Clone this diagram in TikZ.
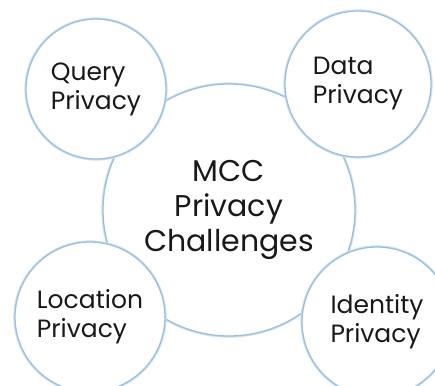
\documentclass[tikz,border=0pt]{standalone}
\usepackage{fontspec}
\setmainfont{Poppins}
\usepackage{tikz}
\definecolor{ringblue}{RGB}{150,192,228}
\definecolor{ringglow}{RGB}{205,225,243}

\begin{document}
\begin{tikzpicture}[x=1pt,y=-1pt,
    ring/.style={circle,draw=ringblue,line width=1.3pt,fill=white,inner sep=0pt,
      align=left,text=black!90,preaction={draw=ringglow,line width=3.2pt}},
    bigring/.style={ring,minimum size=252pt,font=\fontsize{30}{35}\selectfont},
    smallring/.style={ring,font=\fontsize{25}{29}\selectfont}]
  \clip (0,0) rectangle (435,385);
  \fill[white] (0,0) rectangle (435,385);
  % centre
  \node[bigring,align=center] (mcc) at (229,210) {MCC\\Privacy\\Challenges};
  % four corners
  \node[smallring,minimum size=140pt] (query) at (96,89) {Query\\Privacy};
  \node[smallring,minimum size=146pt] (data) at (358,84) {Data\\Privacy};
  \node[smallring,minimum size=150pt] (location) at (90,317) {Location\\Privacy};
  \node[smallring,minimum size=150pt] (identity) at (377,322) {Identity\\Privacy};
\end{tikzpicture}
\end{document}
